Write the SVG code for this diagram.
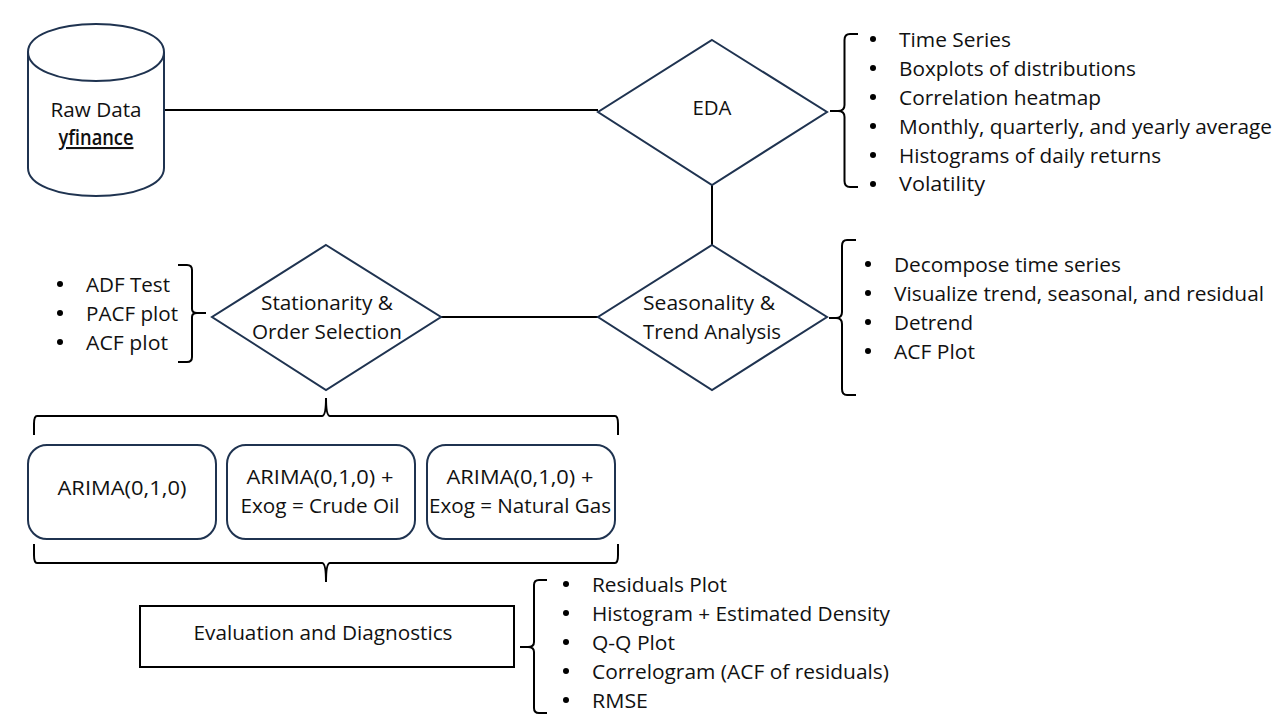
<svg xmlns="http://www.w3.org/2000/svg" width="1280" height="720" viewBox="0 0 1280 720">
<style>
text{font-family:"Open Sans","Noto Sans","Liberation Sans",sans-serif;font-size:20.8px;fill:#111}
.c{text-anchor:middle}
.n{fill:#fff;stroke:#1f3350;stroke-width:2}
.o{fill:none;stroke:#1f3350;stroke-width:2}
.l{fill:none;stroke:#000;stroke-width:2}
.b{fill:#000;stroke:none}
</style>
<rect width="1280" height="720" fill="#fff"/>
<g id="connectors">
<path class="l" d="M165 110H598"/>
<path class="l" d="M712 185V245"/>
<path class="l" d="M441 317H598"/>
</g>
<g id="raw-data">
<path class="n" d="M28 52C28 35 58 24 96 24C134 24 164 35 164 52V168C164 185 134 196 96 196C58 196 28 185 28 168Z"/>
<path class="o" d="M28 52C28 69 58 81 96 81C134 81 164 69 164 52"/>
<text class="c" x="96" y="117" textLength="91" lengthAdjust="spacingAndGlyphs">Raw Data</text>
<text class="c" x="96" y="145" style="font-weight:600;text-decoration:underline;text-underline-offset:4px;text-decoration-skip-ink:none" textLength="75" lengthAdjust="spacingAndGlyphs">yfinance</text>
</g>
<g id="eda">
<polygon class="n" points="712,40 827,112 712,185 598,112"/>
<text class="c" x="712" y="115" textLength="39" lengthAdjust="spacingAndGlyphs">EDA</text>
</g>
<g id="eda-list">
<path class="l" d="M858 34H850Q844.5 34 844.5 40V105Q844.5 111 838 111H830M838 111Q844.5 111 844.5 117V181Q844.5 187 850 187H858"/>
<g class="b"><circle cx="873" cy="39" r="3"/><circle cx="873" cy="68" r="3"/><circle cx="873" cy="97" r="3"/><circle cx="873" cy="126" r="3"/><circle cx="873" cy="155" r="3"/><circle cx="873" cy="184" r="3"/></g>
<text x="899" y="47" textLength="112" lengthAdjust="spacingAndGlyphs">Time Series</text>
<text x="899" y="76" textLength="237" lengthAdjust="spacingAndGlyphs">Boxplots of distributions</text>
<text x="899" y="105" textLength="202" lengthAdjust="spacingAndGlyphs">Correlation heatmap</text>
<text x="899" y="134" textLength="373" lengthAdjust="spacingAndGlyphs">Monthly, quarterly, and yearly average</text>
<text x="899" y="163" textLength="262" lengthAdjust="spacingAndGlyphs">Histograms of daily returns</text>
<text x="899" y="191" textLength="86" lengthAdjust="spacingAndGlyphs">Volatility</text>
</g>
<g id="seasonality">
<polygon class="n" points="712,245 827,317 712,390 598,317"/>
<text class="c" x="709" y="310" textLength="132" lengthAdjust="spacingAndGlyphs">Seasonality &amp;</text>
<text class="c" x="712" y="339" textLength="138" lengthAdjust="spacingAndGlyphs">Trend Analysis</text>
</g>
<g id="seasonality-list">
<path class="l" d="M856 240H847Q842 240 842 246V312Q842 318 836 318H829M836 318Q842 318 842 324V389Q842 395 847 395H856"/>
<g class="b"><circle cx="868" cy="264" r="3"/><circle cx="868" cy="293" r="3"/><circle cx="868" cy="322" r="3"/><circle cx="868" cy="351" r="3"/></g>
<text x="894" y="272" textLength="227" lengthAdjust="spacingAndGlyphs">Decompose time series</text>
<text x="894" y="301" textLength="370" lengthAdjust="spacingAndGlyphs">Visualize trend, seasonal, and residual</text>
<text x="894" y="330" textLength="79" lengthAdjust="spacingAndGlyphs">Detrend</text>
<text x="894" y="359" textLength="81" lengthAdjust="spacingAndGlyphs">ACF Plot</text>
</g>
<g id="stationarity">
<polygon class="n" points="326,245 441,317 326,390 212,317"/>
<text class="c" x="327" y="310" textLength="132" lengthAdjust="spacingAndGlyphs">Stationarity &amp;</text>
<text class="c" x="327" y="339" textLength="150" lengthAdjust="spacingAndGlyphs">Order Selection</text>
</g>
<g id="stationarity-list">
<path class="l" d="M178 265H187Q192 265 192 270V309Q192 313 197 313H206M197 313Q192 313 192 317V357Q192 362 187 362H178"/>
<g class="b"><circle cx="60" cy="284" r="3"/><circle cx="60" cy="313" r="3"/><circle cx="60" cy="342" r="3"/></g>
<text x="86" y="292" textLength="84" lengthAdjust="spacingAndGlyphs">ADF Test</text>
<text x="86" y="321" textLength="92" lengthAdjust="spacingAndGlyphs">PACF plot</text>
<text x="86" y="350" textLength="82" lengthAdjust="spacingAndGlyphs">ACF plot</text>
</g>
<g id="top-brace">
<path class="l" d="M34 435V424Q34 416 37 416H322Q326 416 326 398M326 398Q326 416 330 416H615Q618 416 618 424V435"/>
</g>
<g id="arima-1">
<rect class="n" x="28" y="445" width="188" height="94" rx="19"/>
<text class="c" x="122" y="495" textLength="129" lengthAdjust="spacingAndGlyphs">ARIMA(0,1,0)</text>
</g>
<g id="arima-2">
<rect class="n" x="227" y="445" width="188" height="94" rx="19"/>
<text class="c" x="320" y="484" textLength="147" lengthAdjust="spacingAndGlyphs">ARIMA(0,1,0) +</text>
<text class="c" x="320" y="513" textLength="159" lengthAdjust="spacingAndGlyphs">Exog = Crude Oil</text>
</g>
<g id="arima-3">
<rect class="n" x="427" y="445" width="188" height="94" rx="19"/>
<text class="c" x="520" y="484" textLength="147" lengthAdjust="spacingAndGlyphs">ARIMA(0,1,0) +</text>
<text class="c" x="520" y="513" textLength="182" lengthAdjust="spacingAndGlyphs">Exog = Natural Gas</text>
</g>
<g id="bottom-brace">
<path class="l" d="M34 544V555Q34 563 37 563H322Q326 563 326 582M326 582Q326 563 330 563H615Q618 563 618 555V544"/>
</g>
<g id="evaluation">
<rect x="140" y="606" width="374" height="61" fill="#fff" stroke="#000" stroke-width="2"/>
<text class="c" x="323" y="640" textLength="259" lengthAdjust="spacingAndGlyphs">Evaluation and Diagnostics</text>
</g>
<g id="evaluation-list">
<path class="l" d="M547 580H539Q534 580 534 585V642Q534 647 528 647H520M528 647Q534 647 534 652V708Q534 713 539 713H547"/>
<g class="b"><circle cx="566" cy="584" r="3"/><circle cx="566" cy="613" r="3"/><circle cx="566" cy="642" r="3"/><circle cx="566" cy="671" r="3"/><circle cx="566" cy="700" r="3"/></g>
<text x="592" y="592" textLength="135" lengthAdjust="spacingAndGlyphs">Residuals Plot</text>
<text x="592" y="621" textLength="298" lengthAdjust="spacingAndGlyphs">Histogram + Estimated Density</text>
<text x="592" y="650" textLength="83" lengthAdjust="spacingAndGlyphs">Q-Q Plot</text>
<text x="592" y="679" textLength="297" lengthAdjust="spacingAndGlyphs">Correlogram (ACF of residuals)</text>
<text x="592" y="708" textLength="56" lengthAdjust="spacingAndGlyphs">RMSE</text>
</g>
</svg>
